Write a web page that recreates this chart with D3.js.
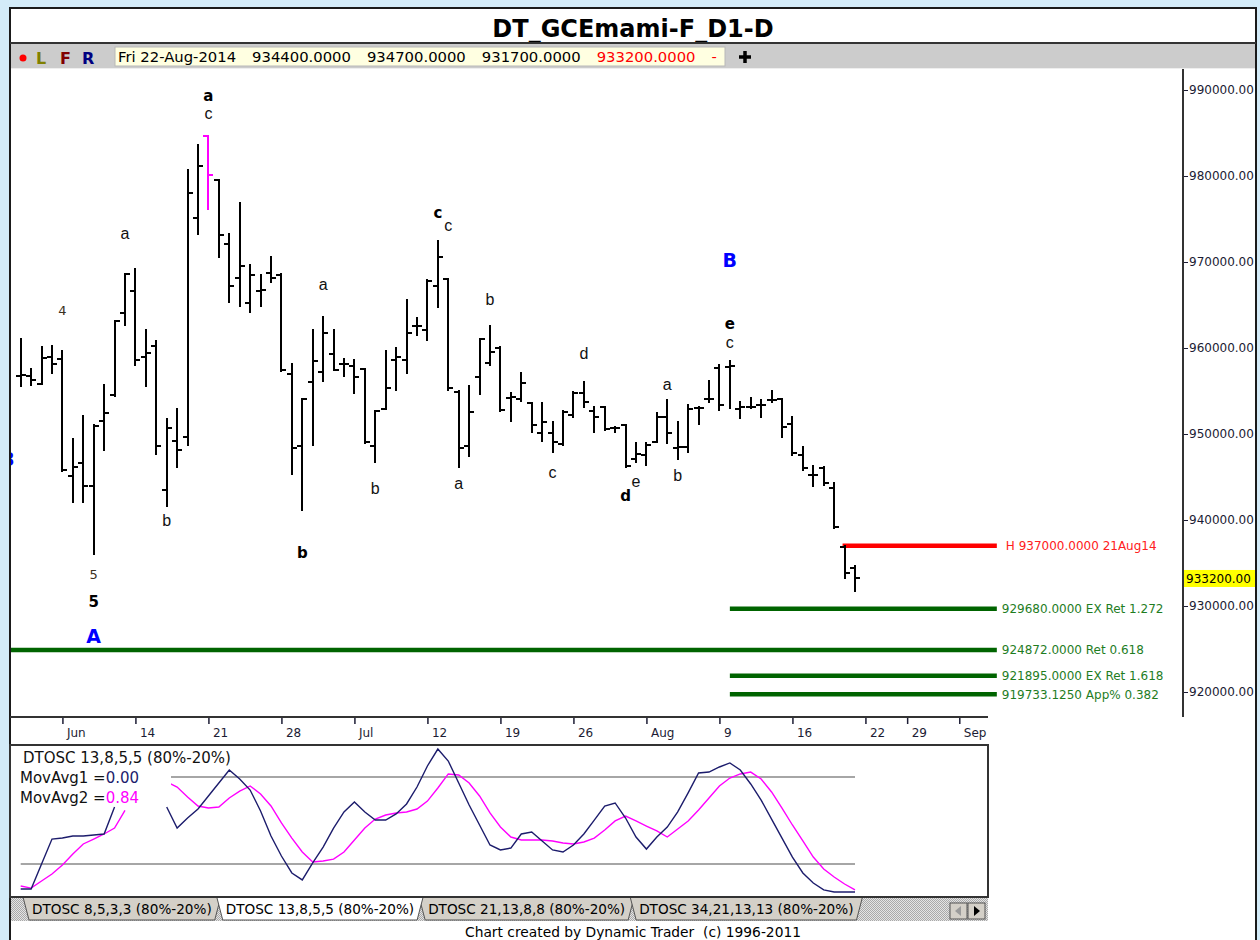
<!DOCTYPE html>
<html>
<head>
<meta charset="utf-8">
<script src="https://cdn.jsdelivr.net/npm/d3@7"></script>
<style>
body { margin: 0; background: #d3ebf8; }
svg { display: block; }
</style>
</head>
<body>
<svg id="chart" width="1260" height="940"></svg>
<script>
"use strict"

// ---- data ----
const TITLE = "DT_GCEmami-F_D1-D";
const LAST_DATE = "Fri 22-Aug-2014";

const BAR_OPEN = [956700,956700,955800,959000,958700,945100,946600,944000,951500,954500,
    964100,966600,959000,960200,943500,949200,949700,975100,984700,979500,
    972100,968100,965200,966600,968700,968500,957000,948600,956000,957200,
    959300,958100,957900,957600,948600,952900,958600,958600,962600,962100,
    967200,968000,954900,948600,956600,958300,960000,954200,954100,953600,
    950100,950100,948800,952200,954800,952700,953100,950700,951000,947100,
    947600,949100,952000,948400,948500,953000,954100,957700,957800,952900,
    953100,953400,954000,954100,951200,947600,945200,946000,943700,936900,
    934400];
const BAR_HIGH = [961000,957600,960100,960200,959700,949400,952100,951000,955700,963100,
    968600,969200,962100,960800,951700,952900,980700,983600,984700,979500,
    973300,976900,969700,968500,970600,968600,958100,954100,962100,963600,
    962100,958700,958600,957600,952700,959700,960000,965600,963500,967900,
    972400,968000,955000,955600,961000,962600,960100,954800,957100,953600,
    953600,951400,952700,954900,956000,953100,953100,950800,951000,949000,
    949000,952400,954000,951400,953400,953100,956200,958000,958500,953700,
    954200,954000,955000,954100,952000,948500,946300,946200,944300,937000,
    934700];
const BAR_LOW = [955600,955700,955800,957100,945700,942100,942100,936000,948100,954400,
    962700,958000,955600,947700,941600,946200,948700,973300,976200,970600,
    965300,964900,964200,964900,967700,957300,945300,941200,948700,956200,
    957400,956700,954800,949000,946700,952900,955100,957100,961500,960900,
    964800,955100,946200,947400,954700,958000,952700,951500,953800,950200,
    949200,947900,948700,952000,953100,950200,950500,950200,946200,946700,
    946400,949100,949000,947100,947900,951200,953700,952800,953000,951900,
    953000,952000,953700,949700,947600,945800,944000,944100,939100,933300,
    931700];
const BAR_CLOSE = [956900,956300,958800,958100,945800,946200,944000,950900,952400,963100,
    968600,958600,959400,948600,950700,948100,978000,981200,980100,973100,
    967200,969500,968500,966700,968100,957400,948400,954100,958500,961700,
    957400,958100,956600,949100,952700,955300,959000,961700,962600,967800,
    970600,955300,948400,952600,961000,959500,952800,954300,955900,951000,
    951400,949100,952600,954800,953700,952000,950600,950700,946300,947700,
    948700,952000,950100,948500,952900,953000,954100,953400,957900,953100,
    953100,953400,954000,950800,947800,946000,945200,944300,939200,933800,
    933200];
const HIGHLIGHT_BARS = [19];

// DTOSC 13,8,5,5 : fast line and its moving average (percent)
const OSC_FAST = [2.8,2.8,20.0,37.2,37.9,39.3,39.3,40.0,40.7,59.3,
    null,null,null,null,59.3,44.8,51.7,57.9,66.9,75.9,
    84.8,78.6,71.0,56.6,39.3,25.5,13.8,9.0,20.7,31.7,
    44.8,55.9,62.8,55.9,50.3,50.3,54.5,61.4,73.1,87.6,
    99.3,91.0,75.9,60.7,46.9,33.1,29.7,31.0,40.7,42.1,
    35.9,29.7,28.3,33.1,40.7,50.3,60.0,62.1,51.7,38.6,
    30.3,38.6,45.5,55.9,69.0,82.8,83.4,86.9,89.7,84.8,
    75.2,64.1,51.0,37.9,24.8,13.8,6.9,2.1,0.7,0.7,
    0.7];
const OSC_SLOW = [4.8,3.4,8.3,13.1,19.3,26.9,33.8,37.2,40.7,44.8,
    57.0,null,null,null,76.6,73.1,66.2,60.0,58.6,59.3,
    65.5,70.3,73.8,68.3,60.0,48.3,37.9,28.3,21.4,22.1,
    23.4,28.3,36.6,44.8,51.0,53.8,55.2,55.9,57.9,63.4,
    72.4,82.1,81.4,75.9,66.9,55.2,45.5,38.6,36.6,36.6,
    36.6,35.9,34.5,33.8,35.2,37.9,43.4,49.7,53.1,49.7,
    46.2,42.8,38.6,44.1,49.7,57.2,65.5,73.8,79.3,82.1,
    83.4,78.6,69.7,58.6,46.9,35.9,24.8,16.6,11.0,6.2,
    2.1];
const OSC_BANDS = [80, 20];
const OSC_TITLE = "DTOSC 13,8,5,5 (80%-20%)";
const OSC_LEGEND_NAMES = ["MovAvg1 =", "MovAvg2 ="];
const OSC_LEGEND_VALUES = ["0.00", "0.84"];

const X_TICK_BARS = [5, 12, 19, 26, 33, 40, 47, 54, 61, 68, 75, 82, 86, 91];
const X_TICK_LABELS = ["Jun", "14", "21", "28", "Jul", "12", "19", "26", "Aug", "9", "16", "22", "29", "Sep"];
const Y_TICKS = [920000, 930000, 940000, 950000, 960000, 970000, 980000, 990000];

// wave labels: text, degree, bar, price
const LABEL_TEXT = ["a","c","a","4","b","5","5","A","a","b","b","c","c","a","b","d","c","d","e","a","b","B","e","c","3"];
const LABEL_DEGREE = ["int","sub","sub","num","sub","num","int","pri","sub","int","sub","int","sub","sub","sub","sub","sub","int","sub","sub","sub","pri","int","sub","pri"];
const LABEL_BAR = [19,19,11,5,15,8,8,8,30,28,35,41,42,43,46,55,52,59,60,63,64,69,69,69,-0.2];
const LABEL_PRICE = [989300,987300,973300,964400,939900,933700,930500,926500,967400,936200,
    943700,975700,974200,944200,965600,959400,945500,942800,944500,955800,
    945200,970200,962800,960700,947000];

// projection levels
const LEVEL_PRICE = [929680, 924872, 921895, 919733.125];
const LEVEL_TEXT = ["929680.0000 EX Ret 1.272", "924872.0000 Ret 0.618", "921895.0000 EX Ret 1.618", "919733.1250 App% 0.382"];
const LEVEL_FROM = [69, -1, 69, 69];
const LEVEL_TO = 94.6;
const HIGH_PRICE = 937000;
const HIGH_FROM = 80;
const HIGH_TEXT = "H 937000.0000 21Aug14";

const TAB_LABELS = ["DTOSC 8,5,3,3 (80%-20%)", "DTOSC 13,8,5,5 (80%-20%)", "DTOSC 21,13,8,8 (80%-20%)", "DTOSC 34,21,13,13 (80%-20%)"];
const ACTIVE_TAB = 1;
const FOOTER = "Chart created by Dynamic Trader  (c) 1996-2011";

// ---- layout ----
const FONT = "'DejaVu Sans', Verdana, sans-serif";
const FONT_ARIAL = "'Liberation Sans', Arial, sans-serif";
const PANEL = { left: 10, top: 8, right: 1256 };
const PLOT = { left: 11, top: 69, right: 1183, bottom: 717 };
const OSC = { top: 745, bottom: 897, right: 988 };
const NAVY = "#1c1c6c";
const MAGENTA = "#ff00ff";
const GREEN = "#006400";

const XScale = d3.scaleLinear([1, 81], [20.7, 855]);
const YScale = d3.scaleLinear([920000, 990000], [692, 90]);
const OscScale = d3.scaleLinear([0, 100], [893, 748]);

const svg = d3.select("#chart");
const defs = svg.append("defs");
defs.append("clipPath").attr("id", "plotClip").append("rect")
    .attr("x", PLOT.left).attr("y", PLOT.top)
    .attr("width", PLOT.right - PLOT.left - 1).attr("height", PLOT.bottom - PLOT.top - 1);
defs.append("clipPath").attr("id", "oscClip").append("rect")
    .attr("x", PLOT.left).attr("y", OSC.top + 1)
    .attr("width", OSC.right - PLOT.left - 1).attr("height", OSC.bottom - OSC.top - 2);
defs.append("clipPath").attr("id", "boxClip").append("rect")
    .attr("x", 115).attr("y", 46).attr("width", 610).attr("height", 21);
const hatch = defs.append("pattern").attr("id", "hatch")
    .attr("width", 2).attr("height", 2).attr("patternUnits", "userSpaceOnUse");
hatch.append("rect").attr("width", 2).attr("height", 2).attr("fill", "#e4e4e4");
hatch.append("rect").attr("width", 1).attr("height", 1).attr("fill", "#a9a9a9");
hatch.append("rect").attr("x", 1).attr("y", 1).attr("width", 1).attr("height", 1).attr("fill", "#a9a9a9");

// panel + title
svg.append("rect")
    .attr("x", PANEL.left).attr("y", PANEL.top)
    .attr("width", PANEL.right - PANEL.left).attr("height", 960)
    .attr("fill", "#fff").attr("stroke", "#1a1a1a").attr("stroke-width", 2);
svg.append("text").text(TITLE)
    .attr("x", 633).attr("y", 37).attr("text-anchor", "middle")
    .attr("font-family", FONT).attr("font-weight", "bold").attr("font-size", 24).attr("fill", "#000");

// toolbar
svg.append("rect").attr("x", PANEL.left + 1).attr("y", 43).attr("width", PANEL.right - PANEL.left - 2)
    .attr("height", 25).attr("fill", "#cccccc");
svg.append("line").attr("x1", PANEL.left).attr("x2", PANEL.right).attr("y1", 43).attr("y2", 43)
    .attr("stroke", "#333").attr("stroke-width", 2);
svg.append("line").attr("x1", PANEL.left + 1).attr("x2", PANEL.right - 1).attr("y1", 68.5).attr("y2", 68.5)
    .attr("stroke", "#eeeeee").attr("stroke-width", 1);
svg.append("circle").attr("cx", 23).attr("cy", 58).attr("r", 3.5).attr("fill", "#ff0000");
[["L", "#808000", 36], ["F", "#800000", 60], ["R", "#000080", 82]].forEach(([t, c, x]) => {
    svg.append("text").text(t).attr("x", x).attr("y", 64)
        .attr("font-family", FONT).attr("font-weight", "bold").attr("font-size", 16).attr("fill", c);
});
svg.append("rect").attr("x", 115).attr("y", 47).attr("width", 610).attr("height", 19)
    .attr("fill", "#ffffe1").attr("stroke", "#b8b8b8");
const last = BAR_OPEN.length - 1;
const quote = [LAST_DATE, BAR_OPEN[last], BAR_HIGH[last], BAR_LOW[last], BAR_CLOSE[last], "-"]
    .map(v => typeof v === "number" ? v.toFixed(4) : v);
const quoteG = svg.append("g").attr("clip-path", "url(#boxClip)");
let qx = 118;
quote.forEach((t, i) => {
    const el = quoteG.append("text").text(t).attr("x", qx).attr("y", 62)
        .attr("font-family", FONT).attr("font-size", 14.8)
        .attr("fill", i >= 4 ? "#ff0000" : "#000");
    qx += el.node().getComputedTextLength() + 16;
});
svg.append("path").attr("d", "M745,51V63M739,57H751")
    .attr("stroke", "#000").attr("stroke-width", 3.5);

// ---- price plot ----
const plot = svg.append("g").attr("clip-path", "url(#plotClip)");

// projection levels
LEVEL_PRICE.forEach((p, i) => {
    plot.append("line")
        .attr("x1", XScale(LEVEL_FROM[i])).attr("x2", XScale(LEVEL_TO))
        .attr("y1", YScale(p)).attr("y2", YScale(p))
        .attr("stroke", GREEN).attr("stroke-width", 4.5);
    plot.append("text").text(LEVEL_TEXT[i])
        .attr("x", XScale(LEVEL_TO) + 5).attr("y", YScale(p)).attr("dy", "0.36em")
        .attr("font-family", FONT).attr("font-size", 12).attr("fill", "#1f7d1f");
});
plot.append("line")
    .attr("x1", XScale(HIGH_FROM) - 2).attr("x2", XScale(LEVEL_TO))
    .attr("y1", YScale(HIGH_PRICE)).attr("y2", YScale(HIGH_PRICE))
    .attr("stroke", "#ff0000").attr("stroke-width", 4.5);
plot.append("text").text(HIGH_TEXT)
    .attr("x", XScale(LEVEL_TO) + 9).attr("y", YScale(HIGH_PRICE)).attr("dy", "0.36em")
    .attr("font-family", FONT).attr("font-size", 12).attr("fill", "#ff2020");

// OHLC bars
const bars = BAR_OPEN.map((o, i) => ({ i: i + 1, o: o, h: BAR_HIGH[i], l: BAR_LOW[i], c: BAR_CLOSE[i] }));
const barG = plot.append("g").selectAll("g").data(bars).join("g")
    .attr("stroke", d => HIGHLIGHT_BARS.includes(d.i) ? MAGENTA : "#000")
    .attr("stroke-width", 2).attr("shape-rendering", "crispEdges");
const bx = d => Math.round(XScale(d.i));
barG.append("line")
    .attr("x1", bx).attr("x2", bx)
    .attr("y1", d => Math.round(YScale(d.h)) - 1).attr("y2", d => Math.round(YScale(d.l)) + 1);
barG.append("line")
    .attr("x1", d => bx(d) - 5).attr("x2", bx)
    .attr("y1", d => Math.round(YScale(d.o))).attr("y2", d => Math.round(YScale(d.o)));
barG.append("line")
    .attr("x1", bx).attr("x2", d => bx(d) + 5)
    .attr("y1", d => Math.round(YScale(d.c))).attr("y2", d => Math.round(YScale(d.c)));

// wave labels
const DEGREE_STYLE = {
    sub: { family: FONT_ARIAL, weight: "normal", size: 16, fill: "#111" },
    int: { family: FONT, weight: "bold", size: 15, fill: "#000" },
    num: { family: FONT, weight: "normal", size: 13, fill: "#3a3020" },
    pri: { family: FONT, weight: "bold", size: 19, fill: "#0000ff" }
};
LABEL_TEXT.forEach((t, i) => {
    const s = DEGREE_STYLE[LABEL_DEGREE[i]];
    plot.append("text").text(t)
        .attr("x", XScale(LABEL_BAR[i])).attr("y", YScale(LABEL_PRICE[i]))
        .attr("dy", "0.35em").attr("text-anchor", "middle")
        .attr("font-family", s.family).attr("font-weight", s.weight)
        .attr("font-size", s.size).attr("fill", s.fill);
});

// y axis (the narrow price column only shows two decimals)
const yAxisG = svg.append("g");
yAxisG.append("g")
    .attr("transform", `translate(${PLOT.right},0)`)
    .call(d3.axisRight(YScale).tickValues(Y_TICKS).tickSize(5).tickPadding(1).tickFormat(d3.format(".2f")))
    .call(g => g.select(".domain").remove())
    .attr("font-family", FONT).attr("font-size", 12).attr("color", "#1c1c34");
yAxisG.append("line")
    .attr("x1", PLOT.right).attr("x2", PLOT.right).attr("y1", PLOT.top).attr("y2", PLOT.bottom)
    .attr("stroke", "#333").attr("stroke-width", 2);
const lastClose = BAR_CLOSE[last];
yAxisG.append("rect")
    .attr("x", PLOT.right + 1).attr("y", YScale(lastClose) - 8.5)
    .attr("width", PANEL.right - PLOT.right - 2).attr("height", 17).attr("fill", "#ffff00");
yAxisG.append("text").text(lastClose.toFixed(2))
    .attr("x", PLOT.right + 3).attr("y", YScale(lastClose)).attr("dy", "0.36em")
    .attr("font-family", FONT).attr("font-size", 12).attr("fill", "#000");

// x axis
const xAxisG = svg.append("g")
    .attr("transform", `translate(0,${PLOT.bottom})`)
    .call(d3.axisBottom(XScale).tickValues(X_TICK_BARS).tickSize(7).tickFormat((d, i) => X_TICK_LABELS[i]))
    .call(g => g.select(".domain").remove())
    .attr("font-family", FONT).attr("font-size", 12).attr("color", "#1c1c34");
xAxisG.selectAll(".tick line").attr("stroke-width", 1.5);
xAxisG.selectAll(".tick text").attr("text-anchor", "start").attr("x", 4).attr("y", 11);
svg.append("line")
    .attr("x1", PANEL.left).attr("x2", OSC.right).attr("y1", PLOT.bottom).attr("y2", PLOT.bottom)
    .attr("stroke", "#333").attr("stroke-width", 2);

// ---- oscillator ----
svg.append("rect")
    .attr("x", PANEL.left).attr("y", OSC.top)
    .attr("width", OSC.right - PANEL.left).attr("height", OSC.bottom - OSC.top)
    .attr("fill", "#fff").attr("stroke", "#333").attr("stroke-width", 2);
const osc = svg.append("g").attr("clip-path", "url(#oscClip)");
OSC_BANDS.forEach(b => {
    osc.append("line")
        .attr("x1", XScale(1)).attr("x2", XScale(81))
        .attr("y1", OscScale(b)).attr("y2", OscScale(b))
        .attr("stroke", "#a6a6a6").attr("stroke-width", 2);
});
const oscLine = d3.line()
    .defined(d => d.v != null)
    .x(d => XScale(d.i))
    .y(d => OscScale(d.v));
osc.append("path")
    .attr("d", oscLine(OSC_SLOW.map((v, i) => ({ i: i + 1, v: v }))))
    .attr("fill", "none").attr("stroke", MAGENTA).attr("stroke-width", 1.4);
osc.append("path")
    .attr("d", oscLine(OSC_FAST.map((v, i) => ({ i: i + 1, v: v }))))
    .attr("fill", "none").attr("stroke", NAVY).attr("stroke-width", 1.4);

// legend
osc.append("rect").attr("x", PLOT.left).attr("y", OSC.top + 2).attr("width", 160).attr("height", 56).attr("fill", "#fff");
const legend = osc.append("g").attr("font-family", FONT).attr("font-size", 15).attr("fill", "#111");
legend.append("text").text(OSC_TITLE).attr("x", 23).attr("y", 763);
OSC_LEGEND_NAMES.forEach((n, i) => {
    const t = legend.append("text").attr("x", 20).attr("y", 783 + i * 20);
    t.append("tspan").text(n);
    t.append("tspan").text(OSC_LEGEND_VALUES[i]).attr("fill", i === 0 ? NAVY : MAGENTA);
});

// ---- tabs ----
const tabG = svg.append("g");
tabG.append("rect").attr("x", PANEL.left + 1).attr("y", OSC.bottom + 1)
    .attr("width", OSC.right - PANEL.left - 1).attr("height", 23).attr("fill", "url(#hatch)");
let tx = 23;
const tabs = TAB_LABELS.map((label, i) => {
    const g = tabG.append("g");
    const path = g.append("path");
    const text = g.append("text").text(label).attr("y", 914)
        .attr("font-family", FONT).attr("font-size", 13.6).attr("fill", "#000");
    const w = text.node().getComputedTextLength() + 18;
    text.attr("x", tx + 9);
    path.attr("d", `M${tx},${OSC.bottom}L${tx + 6},${OSC.bottom + 23}L${tx + w - 6},${OSC.bottom + 23}L${tx + w},${OSC.bottom}`)
        .attr("fill", i === ACTIVE_TAB ? "#fff" : "#d4d0c8")
        .attr("stroke", "#555").attr("stroke-width", 1);
    tx += w - 4;
    return g;
});
tabs[ACTIVE_TAB].raise();
// scroll buttons
[950, 968].forEach((x, i) => {
    tabG.append("rect").attr("x", x).attr("y", 903).attr("width", 17).attr("height", 16)
        .attr("fill", "#d4d0c8").attr("stroke", "#555");
    tabG.append("path")
        .attr("d", i === 0 ? `M${x + 5},911L${x + 11},906V916Z` : `M${x + 12},911L${x + 6},906V916Z`)
        .attr("fill", i === 0 ? "#9a9a9a" : "#000");
});
svg.append("line").attr("x1", PANEL.left).attr("x2", OSC.right).attr("y1", OSC.bottom).attr("y2", OSC.bottom)
    .attr("stroke", "#333").attr("stroke-width", 2);

svg.append("text").text(FOOTER)
    .attr("x", 633).attr("y", 937).attr("text-anchor", "middle")
    .style("white-space", "pre")
    .attr("font-family", FONT).attr("font-size", 13.8).attr("fill", "#000");
</script>
</body>
</html>
